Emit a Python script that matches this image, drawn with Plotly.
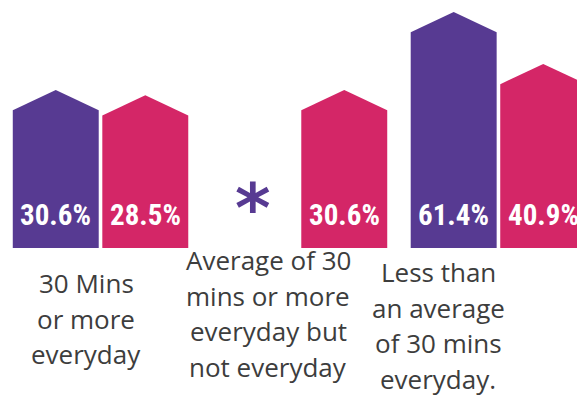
import plotly.graph_objects as go

# ---- data ----
categories = ["30 Mins or more everyday",
              "Average of 30 mins or more everyday but not everyday",
              "Less than an average of 30 mins everyday."]
label_lines = [["30 Mins", "or more", "everyday"],
               ["Average of 30", "mins or more", "everyday but", "not everyday"],
               ["Less than", "an average", "of 30 mins", "everyday."]]
series_a = [30.6, None, 61.4]   # purple
series_b = [28.5, 30.6, 40.9]   # pink
value_labels_a = ["30.6%", "*", "61.4%"]
value_labels_b = ["28.5%", "30.6%", "40.9%"]

# ---- style / layout constants (page body has an 8px margin) ----
W, H = 577, 394
PLOT_BOTTOM_PX = 240
BASE = -31.8
YMAX = 63.0
ROOF = 8.0
HALF_W = 0.216
OFFSETS = [-0.225, 0.225]
COLORS = ["#573A92", "#D42667"]
TEXT_COLOR = "#3d3d3d"
label_x_px = [78, 260, 430]
label_first_baseline_px = [284, 261, 273]
LINE_GAP_PX = 35.5

fig = go.Figure()

def px_to_paper_y(p):
    return (PLOT_BOTTOM_PX - p) / PLOT_BOTTOM_PX

for s, (vals, labels) in enumerate([(series_a, value_labels_a), (series_b, value_labels_b)]):
    for g, v in enumerate(vals):
        xc = g + OFFSETS[s]
        if v is None:
            fig.add_annotation(x=xc, y=BASE, xref="x", yref="y", text="<b>" + labels[g] + "</b>",
                               showarrow=False, yanchor="middle", yshift=40, xshift=-2,
                               font=dict(family="DejaVu Sans", size=68, color=COLORS[s]))
            continue
        xs = [xc - HALF_W, xc - HALF_W, xc, xc + HALF_W, xc + HALF_W, xc - HALF_W]
        ys = [BASE, v - ROOF, v, v - ROOF, BASE, BASE]
        fig.add_trace(go.Scatter(x=xs, y=ys, fill="toself", fillcolor=COLORS[s],
                                 mode="lines", line=dict(width=0, color=COLORS[s]),
                                 hoverinfo="skip", showlegend=False))
        fig.add_annotation(x=xc, y=BASE, xref="x", yref="y", text="<b>" + labels[g] + "</b>",
                           showarrow=False, yanchor="middle", yshift=33,
                           font=dict(family="Roboto Condensed, Liberation Sans Narrow, Roboto, sans-serif",
                                     size=29, color="white"))

for g, lines in enumerate(label_lines):
    for i, line in enumerate(lines):
        baseline = label_first_baseline_px[g] + i * LINE_GAP_PX
        fig.add_annotation(x=label_x_px[g] / W, y=px_to_paper_y(baseline - 9),
                           xref="paper", yref="paper", text=line, showarrow=False,
                           xanchor="center", yanchor="middle",
                           font=dict(family="Open Sans", size=26, color=TEXT_COLOR))

fig.update_layout(
    width=W, height=H,
    margin=dict(l=0, r=0, t=0, b=H - PLOT_BOTTOM_PX, pad=0),
    paper_bgcolor="white", plot_bgcolor="white",
    xaxis=dict(range=[-0.465, 2.435], visible=False, fixedrange=True),
    yaxis=dict(range=[BASE, YMAX], visible=False, fixedrange=True),
    showlegend=False,
)

fig.write_html("out.html")
